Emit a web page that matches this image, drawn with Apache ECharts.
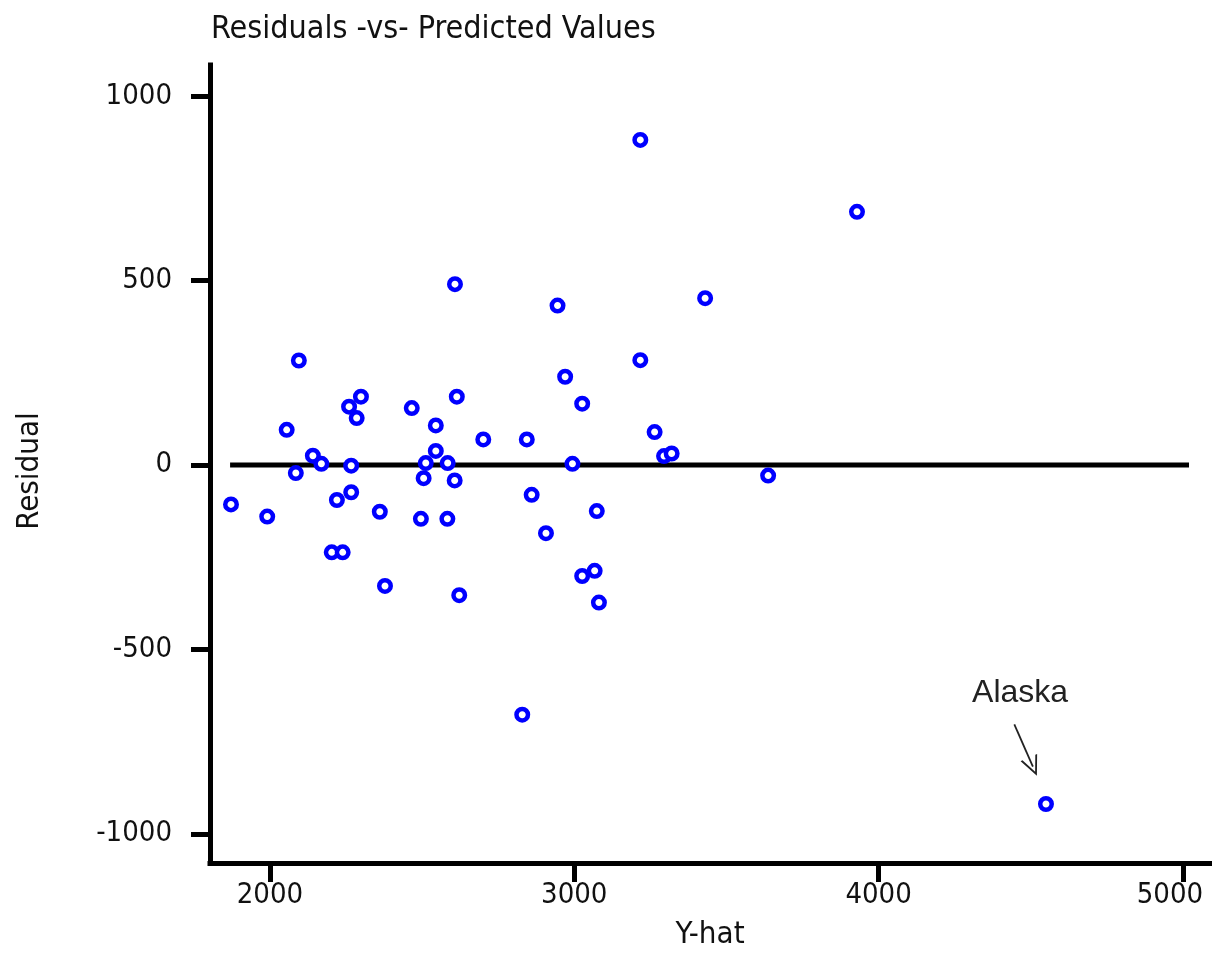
<!DOCTYPE html>
<html>
<head>
<meta charset="utf-8">
<script src="https://cdn.jsdelivr.net/npm/echarts@6/dist/echarts.min.js"></script>
<style>
html,body{margin:0;padding:0;background:#fff;overflow:hidden;}
#chart{width:1212px;height:956px;}
</style>
</head>
<body>
<div id="chart"></div>
<script>
// Predicted values (Y-hat) and residuals
const yhat = [1872,1991,2055,2095,2085,2141,2169,2203,2239,2220,2260,2267,2267,2285,2299,2361,2378,2466,2496,2505,2512,2545,2545,2584,2583,2607,2608,2614,2622,2701,2829,2844,2860,2907,2945,2970,2994,3026,3026,3067,3074,3081,3217,3217,3264,3295,3320,3430,3637,3929,4550];
const resid = [-107,-140,95,283,-22,25,3,-237,-237,-95,158,-2,-74,127,185,-127,-328,154,-146,-36,5,107,38,5,-146,-42,490,185,-353,69,-677,69,-81,-185,432,239,3,166,-301,-287,-125,-373,881,284,89,24,31,452,-29,686,-919];
const xTicks = [2000,3000,4000,5000];
const yTicks = [-1000,-500,0,500,1000];
const zeroLine = [[1869,0],[5020,0]];
const annotationText = 'Alaska';
const annotationPos = [4465,-618];
const arrowLine = [[4446,-703],[4507,-818]];
const titleText = 'Residuals -vs- Predicted Values';
const xName = 'Y-hat';
const yName = 'Residual';

const FONT = "'Liberation Sans Narrow', 'DejaVu Sans Condensed', sans-serif";
const chart = echarts.init(document.getElementById('chart'), null, {renderer:'canvas'});
const points = yhat.map((x,i)=>[x,resid[i]]);
const plain = v => String(v);
const xLabel = v => (v === xTicks[xTicks.length-1] ? '{last|' + v + '}' : String(v));

chart.setOption({
  animation:false,
  backgroundColor:'#fff',
  title:{text:titleText,left:206,top:9,textStyle:{fontFamily:FONT,fontSize:32,fontWeight:'normal',color:'#111'}},
  grid:{left:210,top:65,width:1000,height:798,containLabel:false,outerBoundsMode:'none'},
  xAxis:{
    type:'value',min:1803,max:5089,
    name:xName,nameLocation:'middle',nameGap:56,
    nameTextStyle:{fontFamily:FONT,fontSize:31,color:'#111'},
    axisLine:{onZero:false,lineStyle:{color:'#000',width:5,cap:'square'}},
    axisTick:{show:true,customValues:xTicks,length:19,lineStyle:{color:'#000',width:5}},
    axisLabel:{customValues:xTicks,formatter:xLabel,margin:18,fontFamily:FONT,fontSize:29,color:'#111',
      rich:{last:{fontFamily:FONT,fontSize:29,color:'#111',padding:[0,26,0,0]}}},
    splitLine:{show:false}
  },
  yAxis:{
    type:'value',min:-1079,max:1084,
    name:yName,nameLocation:'middle',nameGap:165,nameRotate:90,
    nameTextStyle:{fontFamily:FONT,fontSize:31,color:'#111',padding:[0,14,0,0]},
    axisLine:{onZero:false,lineStyle:{color:'#000',width:5,cap:'square'}},
    axisTick:{show:true,customValues:yTicks,length:19,lineStyle:{color:'#000',width:5}},
    axisLabel:{customValues:yTicks,formatter:plain,margin:38,fontFamily:FONT,fontSize:29,color:'#111'},
    splitLine:{show:false}
  },
  series:[
    {
      type:'line',data:zeroLine,symbol:'none',silent:true,z:1,
      lineStyle:{color:'#000',width:5}
    },
    {
      type:'scatter',data:points,symbol:'circle',symbolSize:11.5,z:3,
      itemStyle:{color:'#fff',borderColor:'#0000ff',borderWidth:4.5,opacity:1},
      markPoint:{
        silent:true,symbol:'circle',symbolSize:0,
        data:[{coord:annotationPos,value:annotationText}],
        label:{show:true,position:'inside',formatter:annotationText,fontFamily:"'Liberation Sans', Arial, sans-serif",fontSize:32,color:'#222'}
      },
      markLine:{
        silent:true,animation:false,
        symbol:['none','path://M5,0 L10,10 L8.9,10 L5,2.2 L1.1,10 L0,10 Z'],
        symbolSize:[18,20],
        lineStyle:{color:'#222',width:1.8,type:'solid'},
        label:{show:false},
        data:[[{coord:arrowLine[0]},{coord:arrowLine[1]}]]
      }
    }
  ]
});
</script>
</body>
</html>
